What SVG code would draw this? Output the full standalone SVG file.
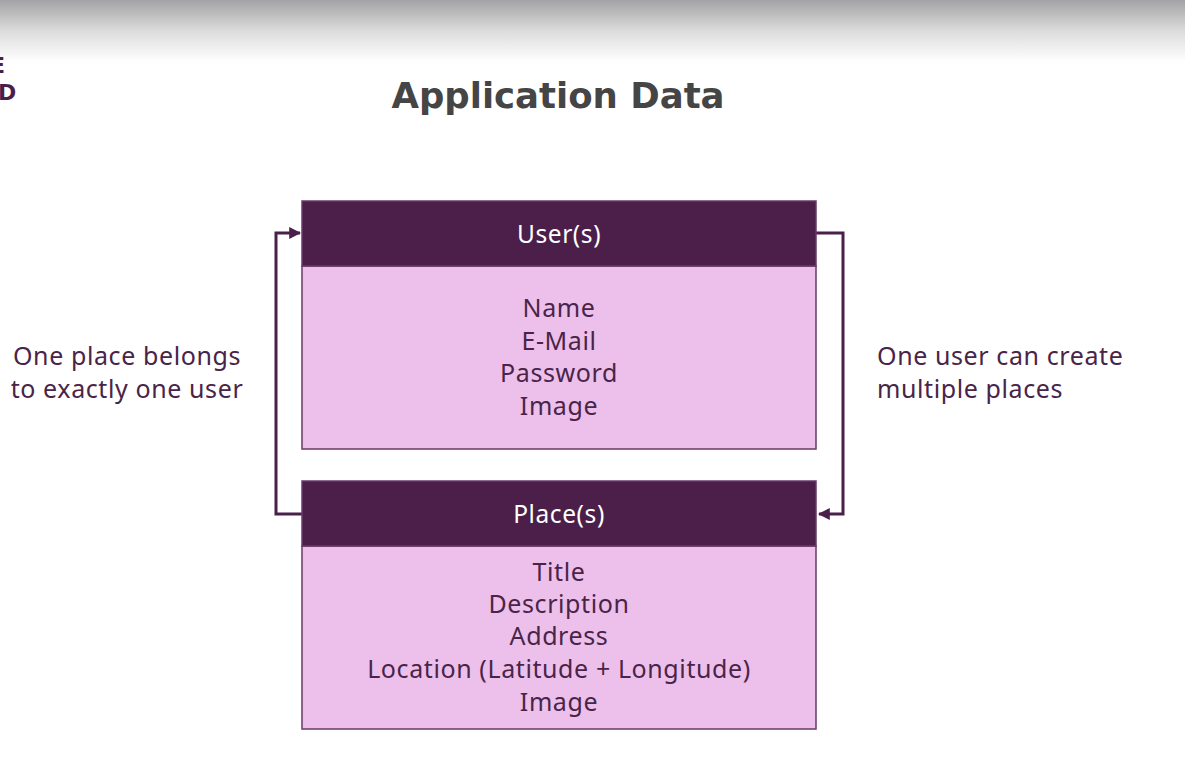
<svg xmlns="http://www.w3.org/2000/svg" width="1185" height="763" viewBox="0 0 1185 763">
  <defs>
    <linearGradient id="topShade" x1="0" y1="0" x2="0" y2="1">
      <stop offset="0" stop-color="#a3a3a5"/>
      <stop offset="0.5" stop-color="#dcdcdc"/>
      <stop offset="1" stop-color="#ffffff"/>
    </linearGradient>
    <marker id="arrow" viewBox="0 0 10 10" refX="9" refY="5" markerWidth="4" markerHeight="4" orient="auto" markerUnits="strokeWidth">
      <path d="M0,0 L10,5 L0,10 z" fill="#4a1f49"/>
    </marker>
  </defs>
  <style>
    .head { fill: #4b1f4a; stroke: #6a3a69; stroke-width: 1.5; }
    .body { fill: #ecc0eb; stroke: #6a3a69; stroke-width: 1.5; }
    .hlabel { font-family: "Noto Sans", sans-serif; font-size: 24.5px; letter-spacing: 0.6px; fill: #ffffff; text-anchor: middle; }
    .field { font-family: "Noto Sans", sans-serif; font-size: 25px; letter-spacing: 0.6px; fill: #4a2448; text-anchor: middle; }
    .note { font-family: "Noto Sans", sans-serif; font-size: 25px; letter-spacing: 0.6px; fill: #4a2448; }
    .link { fill: none; stroke: #4a1f49; stroke-width: 3; }
  </style>

  <rect x="0" y="0" width="1185" height="763" fill="#ffffff"/>
  <rect x="0" y="0" width="1185" height="62" fill="url(#topShade)"/>

  <!-- logo letters trimmed by the left edge -->
  <text x="-10" y="73" font-family="'DejaVu Sans', sans-serif" font-weight="bold" font-size="22" fill="#4b1f4a">E</text>
  <text x="-2" y="100" font-family="'DejaVu Sans', sans-serif" font-weight="bold" font-size="22" fill="#4b1f4a">D</text>

  <text x="558" y="108" font-family="'DejaVu Sans', 'Noto Sans', sans-serif" font-weight="bold" font-size="35.5" fill="#454545" text-anchor="middle">Application Data</text>

  <g id="connectors">
    <polyline class="link" points="302,514 276,514 276,233 300,233" marker-end="url(#arrow)"/>
    <polyline class="link" points="816,233 843,233 843,514 819,514" marker-end="url(#arrow)"/>
  </g>

  <g id="user">
    <rect class="body" x="302" y="266" width="514" height="183"/>
    <rect class="head" x="302" y="201" width="514" height="65"/>
    <text class="hlabel" x="559" y="243">User(s)</text>
    <text class="field" x="559" y="317">Name</text>
    <text class="field" x="559" y="350">E-Mail</text>
    <text class="field" x="559" y="382">Password</text>
    <text class="field" x="559" y="415">Image</text>
  </g>

  <g id="place">
    <rect class="body" x="302" y="546" width="514" height="183"/>
    <rect class="head" x="302" y="481" width="514" height="65"/>
    <text class="hlabel" x="559" y="523">Place(s)</text>
    <text class="field" x="559" y="581">Title</text>
    <text class="field" x="559" y="613">Description</text>
    <text class="field" x="559" y="645">Address</text>
    <text class="field" x="559" y="678">Location (Latitude + Longitude)</text>
    <text class="field" x="559" y="711">Image</text>
  </g>

  <g id="note-left">
    <text class="note" x="127" y="365" text-anchor="middle">One place belongs</text>
    <text class="note" x="127" y="398" text-anchor="middle">to exactly one user</text>
  </g>

  <g id="note-right">
    <text class="note" x="877" y="365">One user can create</text>
    <text class="note" x="877" y="398">multiple places</text>
  </g>
</svg>
